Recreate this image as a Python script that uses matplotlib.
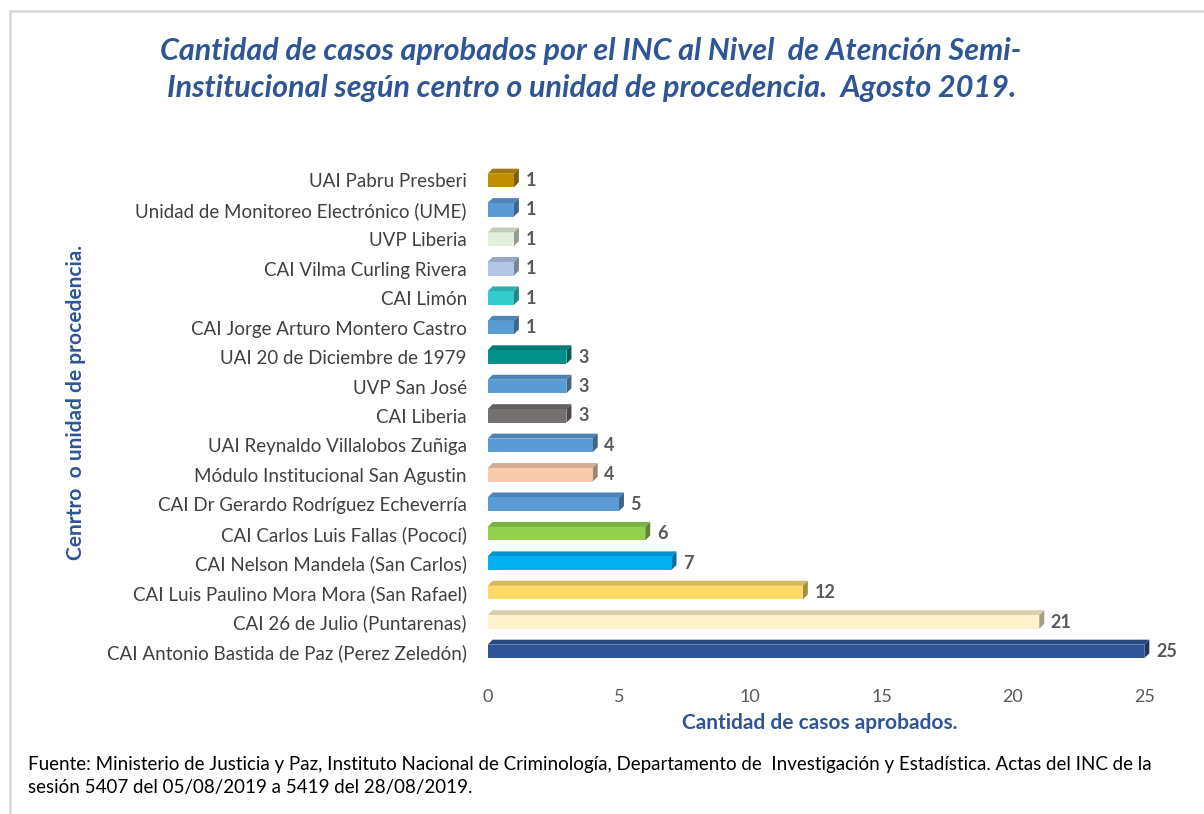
import numpy as np
import matplotlib.pyplot as plt
from matplotlib.lines import Line2D
from matplotlib.patches import Polygon
from matplotlib.colors import to_rgb

plt.rcParams['font.family'] = ['Lato', 'DejaVu Sans']

# Data (bottom to top)
centros = [
    'CAI Antonio Bastida de Paz (Perez Zeledón)',
    'CAI 26 de Julio (Puntarenas)',
    'CAI Luis Paulino Mora Mora (San Rafael)',
    'CAI Nelson Mandela (San Carlos)',
    'CAI Carlos Luis Fallas (Pococí)',
    'CAI Dr Gerardo Rodríguez Echeverría',
    'Módulo Institucional San Agustin',
    'UAI Reynaldo Villalobos Zuñiga',
    'CAI Liberia',
    'UVP San José',
    'UAI 20 de Diciembre de 1979',
    'CAI Jorge Arturo Montero Castro',
    'CAI Limón',
    'CAI Vilma Curling Rivera',
    'UVP Liberia',
    'Unidad de Monitoreo Electrónico (UME)',
    'UAI Pabru Presberi',
]
casos = [25, 21, 12, 7, 6, 5, 4, 4, 3, 3, 3, 1, 1, 1, 1, 1, 1]
colores = ['#2F5597', '#FFF2CC', '#FFD966', '#00B0F0', '#92D050', '#5B9BD5',
           '#F8CBAD', '#5B9BD5', '#767171', '#5B9BD5', '#00918A', '#5B9BD5',
           '#33CCCC', '#B4C6E7', '#E2EFDA', '#5B9BD5', '#BF8F00']

title_color = '#2F5597'
grey = '#595959'


def shade(c, f):
    r, g, b = to_rgb(c)
    return (r * f, g * f, b * f)


fig = plt.figure(figsize=(12.04, 8.14), dpi=100)
ax = fig.add_axes([0.405, 0.178, 0.552, 0.622])

y = np.arange(len(centros))
h = 0.23
dx, dy = 0.19, 0.17
ax.barh(y, casos, height=2 * h, color=colores, zorder=3)
for yi, v, c in zip(y, casos, colores):
    top = Polygon([(0, yi + h), (v, yi + h), (v + dx, yi + h + dy), (dx, yi + h + dy)],
                  closed=True, facecolor=shade(c, 0.85), edgecolor='none', zorder=2)
    side = Polygon([(v, yi - h), (v + dx, yi - h + dy), (v + dx, yi + h + dy), (v, yi + h)],
                   closed=True, facecolor=shade(c, 0.65), edgecolor='none', zorder=2)
    ax.add_patch(top)
    ax.add_patch(side)
    ax.text(v + dx + 0.25, yi, str(v), va='center', ha='left', fontsize=13,
            fontweight='bold', color=grey)

ax.set_xlim(0, 25.3)
ax.set_ylim(-0.6, len(centros) - 0.4)
ax.set_xticks(np.arange(0, 26, 5))
ax.set_yticks(y)
ax.set_yticklabels(centros, fontsize=13.5, color='#404040')
ax.tick_params(axis='x', labelsize=13, labelcolor=grey, length=0, pad=14)
ax.tick_params(axis='y', length=0, pad=15)
for s in ax.spines.values():
    s.set_visible(False)

ax.set_xlabel('Cantidad de casos aprobados.', fontsize=15, fontweight='bold',
              color=title_color, labelpad=6)

fig.text(0.063, 0.505, 'Cenrtro  o unidad de procedencia.', rotation=90,
         ha='center', va='center', fontsize=15, fontweight='bold', color=title_color)

fig.text(0.491, 0.915, 'Cantidad de casos aprobados por el INC al Nivel  de Atención Semi-\n'
         'Institucional según centro o unidad de procedencia.  Agosto 2019.',
         ha='center', va='center', fontsize=22, fontweight='bold', style='italic',
         color=title_color, linespacing=1.4)

fig.text(0.023, 0.071, 'Fuente: Ministerio de Justicia y Paz, Instituto Nacional de Criminología, '
         'Departamento de  Investigación y Estadística. Actas del INC de la\n'
         'sesión 5407 del 05/08/2019 a 5419 del 28/08/2019.',
         ha='left', va='top', fontsize=13.5, color='black', linespacing=1.4)

# frame lines (left and top only, as in the source)
fig.add_artist(Line2D([0.0085, 0.0085], [0.0, 0.9865], transform=fig.transFigure,
                      color='#D9D9D9', linewidth=1.8))
fig.add_artist(Line2D([0.0085, 1.0], [0.9865, 0.9865], transform=fig.transFigure,
                      color='#D9D9D9', linewidth=1.8))

fig.savefig('out.png', dpi=100)
